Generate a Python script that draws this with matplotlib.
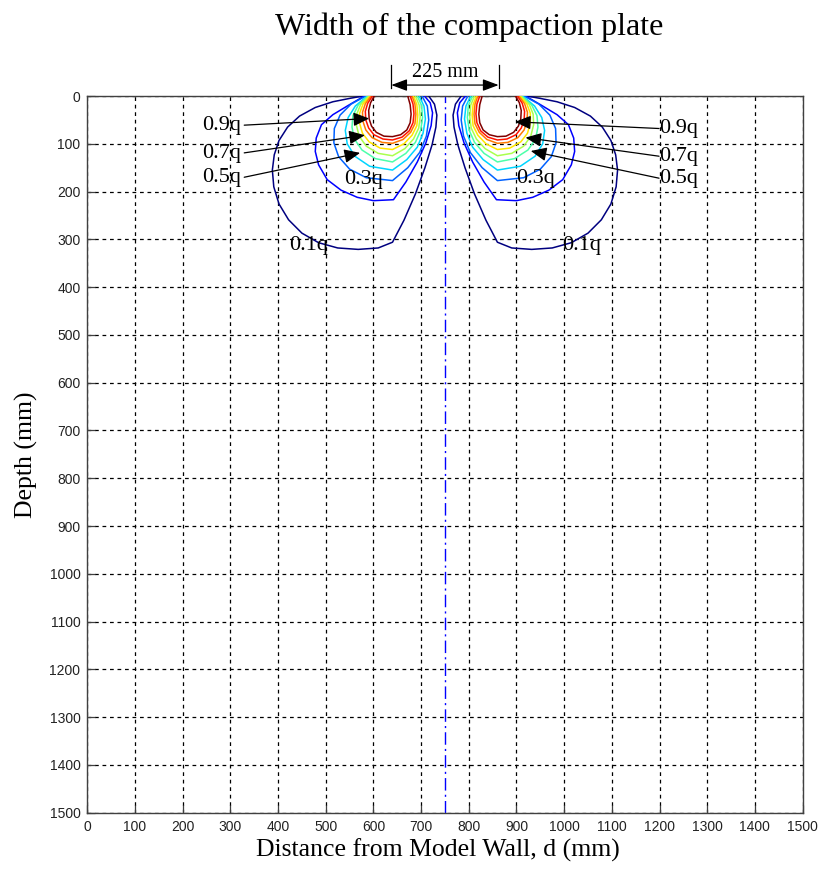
import numpy as np
import matplotlib
import matplotlib.pyplot as plt
from matplotlib.patches import FancyArrowPatch
import matplotlib.transforms as mtransforms

SERIF = ["Liberation Serif", "DejaVu Serif"]
SANS = ["Liberation Sans", "DejaVu Sans"]

# ---- geometry --------------------------------------------------------------
CENTRE_X = 750.0            # symmetry line of the model (mm)
PLATE_WIDTH = 225.0         # width of the compaction plate (mm)

x_ticks = list(range(0, 1501, 100))
depth_ticks = list(range(0, 1501, 100))

# ---- stress contours under the left edge of the plate (x mm, depth mm) ----
levels = [0.1, 0.2, 0.3, 0.4, 0.5, 0.6, 0.7, 0.8, 0.9, 1.0]

x_q10 = [578, 550, 515, 478, 445, 420, 402, 392, 388, 391, 402, 422, 450, 485, 525,
         568, 610, 640, 664, 688, 708, 723, 731, 733, 728, 716]
d_q10 = [0, 5, 12, 24, 42, 65, 93, 123, 155, 190, 226, 259, 287, 307, 318,
         321, 318, 306, 260, 205, 150, 102, 65, 40, 17, 0]

x_q20 = [581, 550, 515, 491, 480, 478, 485, 503, 532, 566, 600, 642, 668, 692, 710,
         721, 724, 719, 707]
d_q20 = [0, 18, 39, 60, 88, 116, 144, 175, 197, 212, 219, 217, 180, 138, 98,
         62, 35, 14, 0]

x_q30 = [584, 553, 530, 518, 517, 527, 550, 585, 640, 672, 697, 711, 716, 713, 702]
d_q30 = [0, 17, 40, 68, 98, 127, 153, 171, 177, 150, 118, 84, 50, 21, 0]

x_q40 = [587, 562, 547, 541, 545, 561, 592, 640, 670, 692, 704, 709, 706, 696]
d_q40 = [0, 21, 45, 72, 100, 126, 147, 155, 133, 107, 78, 48, 21, 0]

x_q50 = [589, 568, 557, 555, 560, 576, 604, 640, 668, 688, 699, 703, 701, 692]
d_q50 = [0, 19, 41, 65, 90, 113, 131, 138, 120, 97, 72, 45, 20, 0]

x_q60 = [591, 573, 565, 564, 570, 585, 610, 640, 666, 684, 695, 698, 696, 688]
d_q60 = [0, 18, 38, 60, 84, 105, 120, 125, 110, 90, 67, 43, 19, 0]

x_q70 = [593, 578, 571, 571, 577, 591, 614, 640, 664, 681, 691, 693, 691, 684]
d_q70 = [0, 17, 36, 57, 78, 96, 109, 112, 100, 82, 62, 40, 18, 0]

x_q80 = [595, 583, 577, 578, 584, 597, 618, 640, 662, 678, 687, 689, 687, 681]
d_q80 = [0, 16, 34, 53, 71, 87, 97, 99, 91, 76, 58, 38, 17, 0]

x_q90 = [598, 588, 583, 584, 590, 601, 620, 640, 660, 675, 683, 685, 683, 677]
d_q90 = [0, 15, 32, 50, 67, 81, 90, 92, 86, 73, 56, 37, 17, 0]

x_q100 = [602, 594, 590, 591, 596, 606, 622, 640, 657, 670, 677, 679, 677, 672]
d_q100 = [0, 14, 30, 48, 63, 76, 84, 85, 81, 71, 56, 38, 18, 0]

contour_x = [x_q10, x_q20, x_q30, x_q40, x_q50, x_q60, x_q70, x_q80, x_q90, x_q100]
contour_d = [d_q10, d_q20, d_q30, d_q40, d_q50, d_q60, d_q70, d_q80, d_q90, d_q100]

# ---- contour labels: (text, x, depth) and arrows (tail -> head) ------------
plain_labels = ["0.3q", "0.1q", "0.3q", "0.1q"]
plain_label_x = [538, 423, 899, 996]
plain_label_d = [174, 313, 173, 313]

arrow_labels = ["0.9q", "0.7q", "0.5q", "0.9q", "0.7q", "0.5q"]
arrow_text_x = [240, 240, 240, 1199, 1199, 1199]
arrow_text_d = [61, 120, 170, 68, 126, 172]
arrow_tail_x = [329, 329, 329, 1199, 1199, 1199]
arrow_tail_d = [61, 119, 170, 68, 126, 172]
arrow_head_x = [591, 582, 572, 897, 919, 930]
arrow_head_d = [47, 82, 119, 54, 87, 115]

# ---- figure ------------------------------------------------------------------
fig = plt.figure(figsize=(8.24, 8.69), dpi=100)
ax = fig.add_axes([0.106, 0.0648, 0.868, 0.8247])

ax.set_xlim(0, 1500)
ax.set_ylim(1500, 0)
ax.set_xticks(x_ticks)
ax.set_yticks(depth_ticks)
ax.tick_params(direction="in", length=6, width=0.9, color="#404040",
               labelsize=10, labelcolor="#222222", pad=5)
for lab in ax.get_xticklabels() + ax.get_yticklabels():
    lab.set_family(SANS)
for sp in ax.spines.values():
    sp.set_color("#404040")
    sp.set_linewidth(1.0)

ax.grid(True, color="black", linestyle=(0, (3, 3)), linewidth=0.9)
ax.set_axisbelow(True)

# symmetry line
ax.axvline(CENTRE_X, color="#0000ff", linestyle=(0, (9, 3, 1.5, 3)), linewidth=1.0, zorder=2)

# contour lines, mirrored about the symmetry line for the right-hand plate edge
cmap = matplotlib.colormaps["jet"]
for i, (lev, xs, ds) in enumerate(zip(levels, contour_x, contour_d)):
    col = cmap(i / (len(levels) - 1))
    xs = np.asarray(xs, dtype=float)
    ds = np.asarray(ds, dtype=float)
    ax.plot(xs, ds, color=col, linewidth=1.1, zorder=3)
    ax.plot(2 * CENTRE_X - xs, ds, color=col, linewidth=1.1, zorder=3)

# labels
LABEL_SIZE = 16
for t, x, d in zip(plain_labels, plain_label_x, plain_label_d):
    ax.text(x, d, t, ha="left", va="center", family=SERIF, fontsize=LABEL_SIZE, zorder=5)

for t, tx, td, x0, d0, x1, d1 in zip(arrow_labels, arrow_text_x, arrow_text_d,
                                      arrow_tail_x, arrow_tail_d,
                                      arrow_head_x, arrow_head_d):
    ax.text(tx, td, t, ha="left", va="center", family=SERIF,
            fontsize=LABEL_SIZE, zorder=5)
    arr = FancyArrowPatch((x0, d0), (x1, d1),
                          arrowstyle="-|>,head_length=0.8,head_width=0.35",
                          mutation_scale=12, color="black", linewidth=0.9,
                          shrinkA=0, shrinkB=0, zorder=6)
    ax.add_patch(arr)

# plate width dimension above the axes
trans = mtransforms.blended_transform_factory(ax.transData, ax.transAxes)
x_left = CENTRE_X - PLATE_WIDTH / 2
x_right = CENTRE_X + PLATE_WIDTH / 2
for xe in (x_left, x_right):
    ax.plot([xe, xe], [1.011, 1.043], transform=trans, color="black",
            linewidth=0.9, clip_on=False)
dim = FancyArrowPatch((x_left, 1.0153), (x_right, 1.0153), transform=trans,
                      arrowstyle="<|-|>,head_length=0.8,head_width=0.3",
                      mutation_scale=12, color="black", linewidth=0.9,
                      shrinkA=0, shrinkB=0, clip_on=False)
ax.add_patch(dim)
ax.text(CENTRE_X, 1.020, f"{PLATE_WIDTH:.0f} mm", transform=trans, ha="center",
        va="bottom", family=SERIF, fontsize=14.5)

fig.text(0.569, 0.969, "Width of the compaction plate", ha="center", va="center",
         family=SERIF, fontsize=23)

ax.set_xlabel("Distance from Model Wall, d (mm)", family=SERIF, fontsize=18.5)
ax.xaxis.set_label_coords(0.49, -0.036)
ax.set_ylabel("Depth (mm)", family=SERIF, fontsize=18.5, labelpad=8)

fig.savefig("out.png", dpi=100)
